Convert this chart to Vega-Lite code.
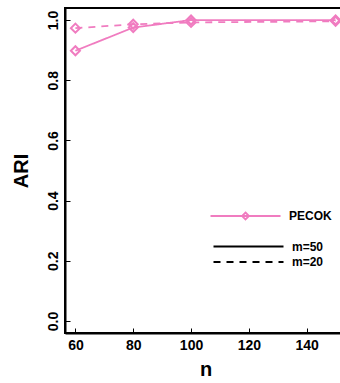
{
  "$schema": "https://vega.github.io/schema/vega-lite/v6.json",
  "width": 281,
  "height": 325,
  "autosize": "none",
  "padding": {"left": 65, "top": 8, "right": 0, "bottom": 50},
  "background": "white",
  "config": {
    "font": "Liberation Sans",
    "view": {"stroke": "black", "strokeWidth": 2},
    "axis": {
      "domainColor": "black", "domainWidth": 2, "tickColor": "black", "tickWidth": 1,
      "tickSize": -5, "grid": false, "labelFont": "Liberation Sans", "labelFontWeight": "bold",
      "labelFontSize": 14, "labelColor": "black", "titleFont": "Liberation Sans",
      "titleFontWeight": "bold", "titleColor": "black", "titleFontSize": 20
    },
    "legend": {"padding": 0}
  },
  "data": {
    "values": [
      {"n": 60, "ari": 0.898, "m": "m=50", "method": "PECOK"},
      {"n": 80, "ari": 0.975, "m": "m=50", "method": "PECOK"},
      {"n": 100, "ari": 1.0, "m": "m=50", "method": "PECOK"},
      {"n": 150, "ari": 1.0, "m": "m=50", "method": "PECOK"},
      {"n": 60, "ari": 0.973, "m": "m=20", "method": "PECOK"},
      {"n": 80, "ari": 0.986, "m": "m=20", "method": "PECOK"},
      {"n": 100, "ari": 0.992, "m": "m=20", "method": "PECOK"},
      {"n": 150, "ari": 0.996, "m": "m=20", "method": "PECOK"}
    ]
  },
  "encoding": {
    "x": {"field": "n", "type": "quantitative",
      "scale": {"domain": [56.4, 153.6], "nice": false, "zero": false},
      "axis": {"values": [60, 80, 100, 120, 140], "title": "n", "labelPadding": 10, "titlePadding": 7}},
    "y": {"field": "ari", "type": "quantitative",
      "scale": {"domain": [-0.04, 1.04], "nice": false, "zero": false},
      "axis": {"values": [0, 0.2, 0.4, 0.6, 0.8, 1.0], "format": ".1f", "labelAngle": -90,
        "labelPadding": 10, "title": "ARI", "titlePadding": 15}},
    "color": {"field": "method", "type": "nominal",
      "scale": {"domain": ["PECOK"], "range": ["#f07cc0"]},
      "legend": {"orient": "none", "legendX": 174.5, "legendY": 202, "title": null,
        "symbolType": "M-10,0H10M0,-1L1,0L0,1L-1,0Z", "symbolSize": 49,
        "symbolStrokeWidth": 1.8, "symbolFillColor": "transparent",
        "labelFontSize": 12, "labelFontWeight": "bold", "labelColor": "black", "labelOffset": 37.5}}
  },
  "layer": [
    {
      "mark": {"type": "line", "strokeWidth": 1.8},
      "encoding": {
        "strokeDash": {"field": "m", "type": "nominal",
          "scale": {"domain": ["m=50", "m=20"], "range": [[1, 0], [7, 6]]},
          "legend": {"orient": "none", "legendX": 177.5, "legendY": 232.5, "title": null,
            "symbolType": "M-10,0H10", "symbolSize": 49, "symbolStrokeColor": "black",
            "symbolStrokeWidth": 2, "labelFontSize": 12, "labelFontWeight": "bold",
            "labelColor": "black", "labelOffset": 37.5, "rowPadding": 3.5}}
      }
    },
    {
      "mark": {"type": "point", "shape": "diamond", "filled": false, "size": 81, "strokeWidth": 2, "opacity": 1},
      "encoding": {"detail": {"field": "m"}}
    }
  ]
}
